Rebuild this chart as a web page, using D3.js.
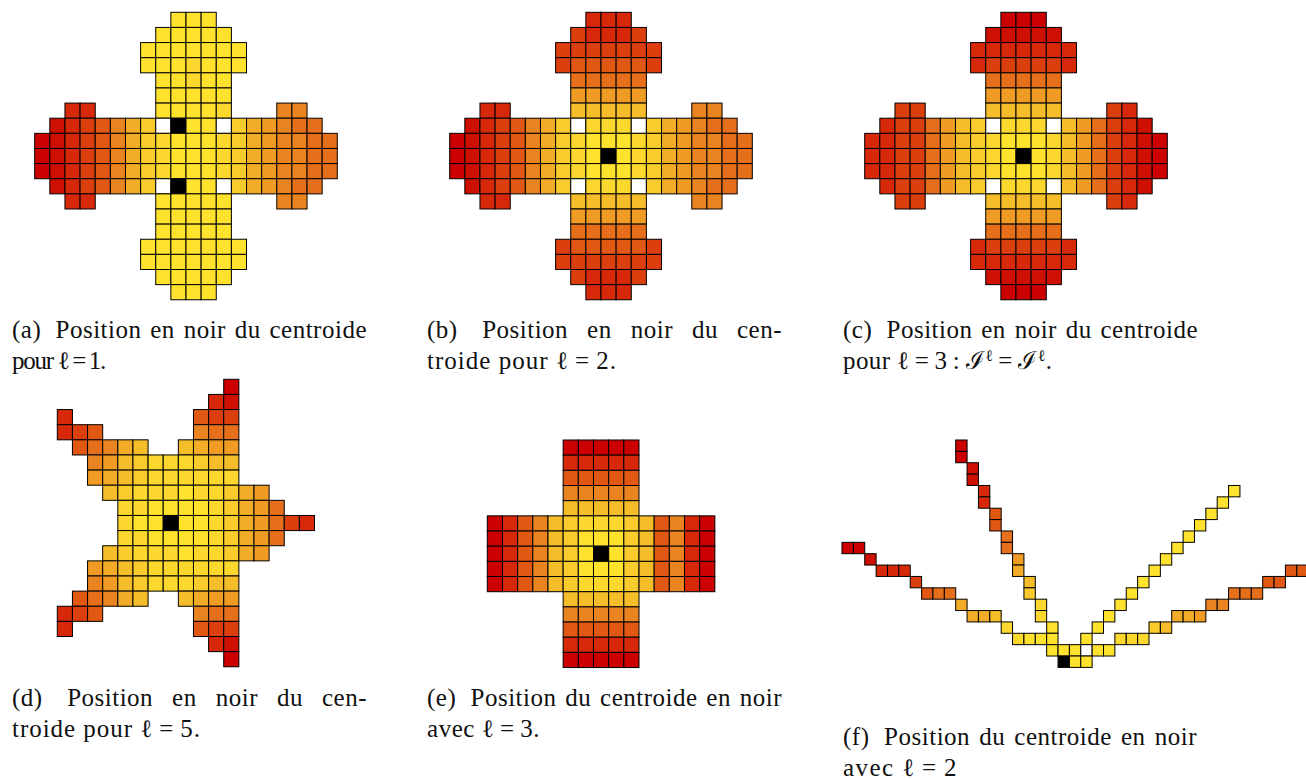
<!DOCTYPE html>
<html>
<head>
<meta charset="utf-8">
<script src="https://cdn.jsdelivr.net/npm/d3@7"></script>
<style>
    html, body { margin: 0; background: #fff; }
    svg { display: block; }
    text { font-family: "Liberation Serif", serif; fill: #111; }
</style>
</head>
<body>
<div id="plot"></div>
<script>
// level per cell: 0 (yellow) to c (red), W white, B black (centroid), . empty
var levelColors = ["#ffe22e", "#fcd82e", "#f9cb2d", "#f6bd2a", "#f3ac28", "#f09b24", "#ea8420",
    "#e56f1a", "#e05812", "#dc3f0e", "#d7290a", "#ce1003", "#cc0000"];

var gridA = [
    ".........000........",
    "........00000.......",
    ".......0000000......",
    ".......0001000......",
    "........00100.......",
    "........00000.......",
    "..aa....00001...66..",
    ".ba98642WB00W245677.",
    "cba98642100012456677",
    "cba98642100012456677",
    "cba98642100012456677",
    ".ba98642WB00W245677.",
    "..aa....00000...66..",
    "........00000.......",
    "........00000.......",
    ".......0000000......",
    ".......0000000......",
    "........00000.......",
    ".........000........"
];

var gridB = [
    ".........aaa........",
    "........9aaa9.......",
    ".......9999999......",
    ".......9888889......",
    "........77777.......",
    "........55555.......",
    "..aa....33333...66..",
    ".ba98642W111W245677.",
    "cba98642100012456677",
    "cba9864210B012456677",
    "cba98642100012456677",
    ".ba98642W111W245677.",
    "..aa....33333...66..",
    "........55555.......",
    "........77777.......",
    ".......9888889......",
    ".......9999999......",
    "........9aaa9.......",
    ".........aaa........"
];

var gridC = [
    ".........ccc........",
    "........bbbbb.......",
    ".......aaaaaaa......",
    ".......a99999a......",
    "........77777.......",
    "........55555.......",
    "..99....33333...9a..",
    ".a997532W111W3579ab.",
    "aa997532100013579abc",
    "aa99753210B013579abc",
    "aa997532100013579abc",
    ".a997532W111W3579ab.",
    "..99....33333...9a..",
    "........55555.......",
    "........77777.......",
    ".......a99999a......",
    ".......aaaaaaa......",
    "........bbbbb.......",
    ".........ccc........"
];

var gridD = [
    "...........c",
    "..........ab",
    "a........899",
    "a98......677",
    ".87643..3455",
    "..6532111233",
    "..5432111111",
    "...321110112 45",
    "....1100001 24 57",
    "....100B001 24 579a",
    "....1100001 24 57",
    "...321110112 45",
    "..5432111111",
    "..6532111233",
    ".87643..3455",
    "a98......677",
    "a........899",
    "..........ab",
    "...........c"
].map(function(r) { return r.replace(/ /g, ""); });

var gridE = [
    ".....ccccc",
    ".....aaaaa",
    ".....88888",
    ".....66666",
    ".....33333",
    "ca86321112 386ac",
    "ca86320002 386ac",
    "ca86320B02 386ac",
    "ca86320002 386ac",
    "ca86321112 386ac",
    ".....33333",
    ".....66666",
    ".....88888",
    ".....aaaaa",
    ".....ccccc"
].map(function(r) { return r.replace(/ /g, ""); });

var gridF = [
    "..........c",
    "..........c",
    "...........b",
    "...........b",
    "............a.....................0",
    "............a....................0",
    ".............8..................0",
    ".............8.................0",
    "..............7...............0",
    "cc............7..............0",
    "..b............5............0",
    "...aaa.........4...........0...........88",
    "......9.........3.........0..........88",
    ".......877......2........0........777",
    "..........4......1......0.......66",
    "...........443...1.....0.....445",
    "..............1...0...0....23",
    "...............1000..0..111",
    "..................000W00",
    "...................B00"
];

var grids = [gridA, gridB, gridC, gridD, gridE, gridF];

// only plain spaces get stretched, thin spaces stay fixed
var captionLines = [
    ["(a)\u2009 Position en noir du centroide", "pour ℓ\u2009=\u20091."],
    ["(b)\u2009 Position en noir du cen-", "troide pour ℓ\u2009=\u20092."],
    ["(c)\u2009 Position en noir du centroide", "pour ℓ\u2009=\u20093\u2009:\u2009ℐ^ℓ\u2009=\u2009ℐ^ℓ."],
    ["(d)\u2009 Position en noir du cen-", "troide pour ℓ\u2009=\u20095."],
    ["(e)\u2009 Position du centroide en noir", "avec ℓ\u2009=\u20093."],
    ["(f)\u2009 Position du centroide en noir", "avec ℓ\u2009=\u20092"]
];

var w = 1306, h = 780;

// where each grid and caption goes on the page
var panels = [
    { left: 34.7, top: 12.3, cell: 15.13, capX: 12, capY: 338, widths: [355, 93] },
    { left: 449.7, top: 12.3, cell: 15.13, capX: 427, capY: 338, widths: [355, 190] },
    { left: 864.7, top: 12.3, cell: 15.13, capX: 843, capY: 338, widths: [355, 209] },
    { left: 57.3, top: 379.3, cell: 15.13, capX: 12, capY: 706, widths: [355, 189] },
    { left: 487.3, top: 440, cell: 15.17, capX: 427, capY: 706, widths: [355, 113] },
    { left: 842, top: 440, cell: 11.37, capX: 843, capY: 745, widths: [354, 115] }
];

var color = d3.scaleOrdinal()
    .domain(d3.range(levelColors.length))
    .range(levelColors);

var svg = d3.select("#plot").append("svg")
    .attr("width", w)
    .attr("height", h);

function cellFill(ch) {
    if (ch === "W") return "#fff";
    if (ch === "B") return "#000";
    return color(parseInt(ch, 36));
}

function toCells(grid) {
    var cells = [];
    grid.forEach(function(row, r) {
        row.split("").forEach(function(ch, c) {
            if (ch !== ".") cells.push({ r: r, c: c, v: ch });
        });
    });
    return cells;
}

grids.forEach(function(grid, i) {
    var p = panels[i];
    var nCols = d3.max(grid, function(r) { return r.length; });
    var x = d3.scaleLinear().domain([0, nCols]).range([p.left, p.left + nCols * p.cell]);
    var y = d3.scaleLinear().domain([0, grid.length]).range([p.top, p.top + grid.length * p.cell]);

    svg.append("g")
        .attr("class", "grid")
        .selectAll("rect")
        .data(toCells(grid)).enter()
        .append("rect")
        .attr("x", function(d) { return x(d.c); })
        .attr("y", function(d) { return y(d.r); })
        .attr("width", p.cell)
        .attr("height", p.cell)
        .attr("fill", function(d) { return cellFill(d.v); })
        .attr("stroke", "#000")
        .attr("stroke-width", 1);

    // captions: first line justified at the spaces, second line fitted by letter spacing
    captionLines[i].forEach(function(line, j) {
        var t = svg.append("text")
            .attr("x", p.capX)
            .attr("y", p.capY + j * 30.5)
            .attr("font-size", 25)
            .style("letter-spacing", "0.5px");
        var dy = 0;
        line.split(/(\^.)/).filter(function(s) { return s.length; }).forEach(function(part) {
            if (part[0] === "^") {
                t.append("tspan").attr("dy", -8).attr("font-size", 16).text(part.slice(1));
                dy = 8;
            } else {
                t.append("tspan").attr("dy", dy).text(part);
                dy = 0;
            }
        });
        var extra = p.widths[j] - t.node().getComputedTextLength();
        if (j === 0) {
            t.style("word-spacing", (extra / (line.split(" ").length - 1)) + "px");
        } else {
            t.style("letter-spacing", (0.5 + extra / line.length) + "px");
        }
    });
});
</script>
</body>
</html>
